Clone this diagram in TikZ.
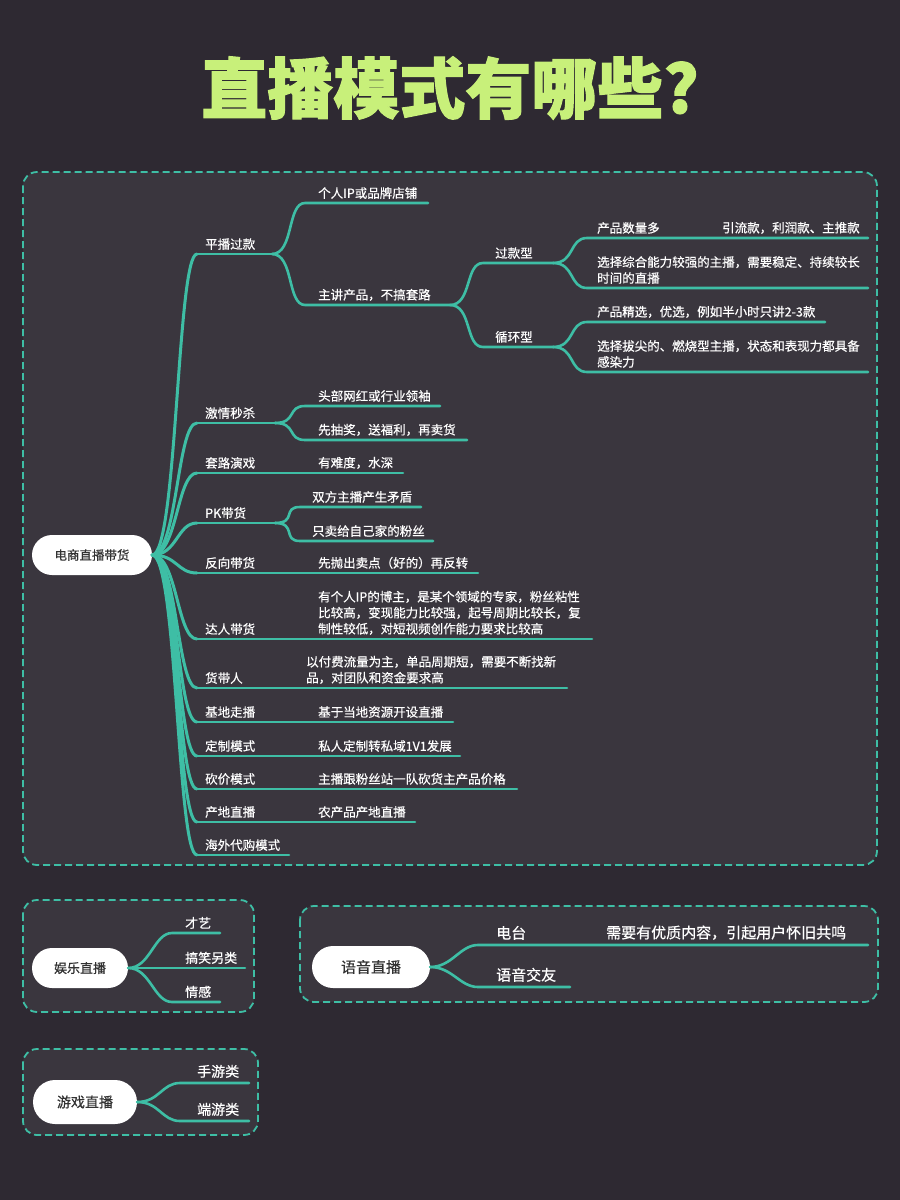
\documentclass[tikz,border=0pt]{standalone}
\usepackage{fontspec}
\setmainfont[FakeBold=0.5]{Noto Sans CJK SC}
\newfontfamily\ttlfont[FakeBold=1.6]{Noto Sans CJK SC}
\usetikzlibrary{positioning}
\usetikzlibrary{shapes.misc}
\definecolor{bgc}{RGB}{46,41,50}
\definecolor{pnl}{RGB}{58,54,62}
\definecolor{mmteal}{RGB}{62,190,165}
\definecolor{ttl}{RGB}{200,240,122}
\definecolor{pilltxt}{RGB}{50,50,50}

\begin{document}
\begin{tikzpicture}[x=1pt,y=-1pt,
    brn/.style={draw=mmteal,line width=2.6pt,line cap=round},
    crv/.style={out=0,in=180,out distance=22pt,in distance=18pt},
    lbl/.style={anchor=south west,inner sep=0pt,text=white,align=left,font=\fontsize{12.5}{16}\selectfont},
    pill/.style={rounded rectangle,fill=white,text=pilltxt,inner sep=0pt,font=\fontsize{12.5}{16}\selectfont},
    panel/.style={draw=mmteal,fill=pnl,line width=1.8pt,dash pattern=on 7pt off 4pt,rounded corners=14pt}]
    \fill[bgc] (0,0) rectangle (900,1200);
    \node[text=ttl,font=\ttlfont\fontsize{66}{70}\selectfont\bfseries] (title) at (450,88) {直播模式有哪些?};

    \draw[panel] (23,172) rectangle (877,865);
    \node[pill,minimum width=120pt,minimum height=40pt] (ecom) at (92,555) {电商直播带货};

    \coordinate (pb) at (197,254);
    \coordinate (jq) at (197,423);
    \coordinate (tl) at (197,473);
    \coordinate (pk) at (197,523);
    \coordinate (fx) at (197,573);
    \coordinate (dr) at (197,639);
    \coordinate (hd) at (197,688);
    \coordinate (jd) at (197,722);
    \coordinate (dz) at (197,756);
    \coordinate (kj) at (197,789);
    \coordinate (cd) at (197,822);
    \coordinate (hw) at (197,855);
    \foreach \b in {pb,jq,tl,pk,fx,dr,hd,jd,dz,kj,cd,hw}
        \draw[brn,line width=3pt] (ecom.east) to[out=0,in=180,out distance=25pt,in distance=20pt] (\b);

    \draw[brn] (pb) -- ++(75,0) coordinate (pbS);
    \draw[brn] (jq) -- ++(78,0) coordinate (jqS);
    \draw[brn] (tl) -- ++(206,0) coordinate (tlE);
    \draw[brn] (pk) -- ++(78,0) coordinate (pkS);
    \draw[brn] (fx) -- ++(281,0) coordinate (fxE);
    \draw[brn] (dr) -- ++(395,0) coordinate (drE);
    \draw[brn] (hd) -- ++(370,0) coordinate (hdE);
    \draw[brn] (jd) -- ++(256,0) coordinate (jdE);
    \draw[brn] (dz) -- ++(263,0) coordinate (dzE);
    \draw[brn] (kj) -- ++(320,0) coordinate (kjE);
    \draw[brn] (cd) -- ++(218,0) coordinate (cdE);
    \draw[brn] (hw) -- ++(92,0) coordinate (hwE);

    \node[lbl] (pbL) at (205,250) {平播过款};
    \node[lbl] (jqL) at (205,419) {激情秒杀};
    \node[lbl] (tlL) at (205,469) {套路演戏};
    \node[lbl] (pkL) at (205,519) {PK带货};
    \node[lbl] (fxL) at (205,569) {反向带货};
    \node[lbl] (drL) at (205,635) {达人带货};
    \node[lbl] (hdL) at (205,684) {货带人};
    \node[lbl] (jdL) at (205,718) {基地走播};
    \node[lbl] (dzL) at (205,752) {定制模式};
    \node[lbl] (kjL) at (205,785) {砍价模式};
    \node[lbl] (cdL) at (205,818) {产地直播};
    \node[lbl] (hwL) at (205,851) {海外代购模式};

    \node[lbl] (tlT) at (318,469) {有难度，水深};
    \node[lbl] (fxT) at (318,569) {先抛出卖点（好的）再反转};
    \node[lbl] (drT) at (318,635) {有个人IP的博主，是某个领域的专家，粉丝粘性\\比较高，变现能力比较强，起号周期比较长，复\\制性较低，对短视频创作能力要求比较高};
    \node[lbl] (hdT) at (306,684) {以付费流量为主，单品周期短，需要不断找新\\品，对团队和资金要求高};
    \node[lbl] (jdT) at (318,718) {基于当地资源开设直播};
    \node[lbl] (dzT) at (318,752) {私人定制转私域1V1发展};
    \node[lbl] (kjT) at (318,785) {主播跟粉丝站一队砍货主产品价格};
    \node[lbl] (cdT) at (318,818) {农产品产地直播};

    \coordinate (ip) at (305,203);
    \coordinate (zj) at (305,305);
    \draw[brn] (pbS) to[crv] (ip) -- ++(123,0) coordinate (ipE);
    \draw[brn] (pbS) to[crv] (zj) -- ++(145,0) coordinate (zjS);
    \node[lbl] (ipL) at (318,199) {个人IP或品牌店铺};
    \node[lbl] (zjL) at (318,301) {主讲产品，不搞套路};

    \coordinate (gk) at (483,263);
    \coordinate (xh) at (483,347);
    \draw[brn] (zjS) to[crv] (gk) -- ++(70,0) coordinate (gkS);
    \draw[brn] (zjS) to[crv] (xh) -- ++(70,0) coordinate (xhS);
    \node[lbl] (gkL) at (495,259) {过款型};
    \node[lbl] (xhL) at (495,343) {循环型};

    \coordinate (sl) at (587,238);
    \coordinate (zh) at (587,288);
    \coordinate (jx) at (587,322);
    \coordinate (bj) at (587,372);
    \draw[brn] (gkS) to[crv] (sl) -- ++(281,0) coordinate (slE);
    \draw[brn] (gkS) to[crv] (zh) -- ++(281,0) coordinate (zhE);
    \draw[brn] (xhS) to[crv] (jx) -- ++(238,0) coordinate (jxE);
    \draw[brn] (xhS) to[crv] (bj) -- ++(281,0) coordinate (bjE);
    \node[lbl] (slL) at (597,234) {产品数量多};
    \node[lbl] (slT) at (722,234) {引流款，利润款、主推款};
    \node[lbl] (zhL) at (597,284) {选择综合能力较强的主播，需要稳定、持续较长\\时间的直播};
    \node[lbl] (jxL) at (597,318) {产品精选，优选，例如半小时只讲2-3款};
    \node[lbl] (bjL) at (597,368) {选择拔尖的、燃烧型主播，状态和表现力都具备\\感染力};

    \coordinate (tb) at (305,406);
    \coordinate (cj) at (305,440);
    \draw[brn] (jqS) to[crv] (tb) -- ++(135,0) coordinate (tbE);
    \draw[brn] (jqS) to[crv] (cj) -- ++(162,0) coordinate (cjE);
    \node[lbl] (tbL) at (318,402) {头部网红或行业领袖};
    \node[lbl] (cjL) at (318,436) {先抽奖，送福利，再卖货};

    \coordinate (sf) at (300,507);
    \coordinate (zm) at (300,541);
    \draw[brn] (pkS) to[crv] (sf) -- ++(121,0) coordinate (sfE);
    \draw[brn] (pkS) to[crv] (zm) -- ++(133,0) coordinate (zmE);
    \node[lbl] (sfL) at (312,503) {双方主播产生矛盾};
    \node[lbl] (zmL) at (312,537) {只卖给自己家的粉丝};

    \draw[panel] (23,900) rectangle (254,1012);
    \node[pill,minimum width=96pt,minimum height=40pt,font=\fontsize{13}{16}\selectfont] (yule) at (80,968) {娱乐直播};
    \coordinate (cy) at (172,933);
    \coordinate (gx) at (172,968);
    \coordinate (qg) at (172,1002);
    \draw[brn] (yule.east) to[crv] (cy) -- ++(48,0) coordinate (cyE);
    \draw[brn] (yule.east) -- (gx) -- ++(73,0) coordinate (gxE);
    \draw[brn] (yule.east) to[crv] (qg) -- ++(48,0) coordinate (qgE);
    \node[lbl,font=\fontsize{13}{16}\selectfont] (cyL) at (185,929) {才艺};
    \node[lbl,font=\fontsize{13}{16}\selectfont] (gxL) at (185,964) {搞笑另类};
    \node[lbl,font=\fontsize{13}{16}\selectfont] (qgL) at (185,998) {情感};

    \draw[panel] (300,906) rectangle (878,1002);
    \node[pill,minimum width=118pt,minimum height=42pt,font=\fontsize{15}{18}\selectfont] (yuyin) at (371,967) {语音直播};
    \coordinate (dt) at (478,945);
    \coordinate (jy) at (478,987);
    \draw[brn] (yuyin.east) to[crv] (dt) -- ++(390,0) coordinate (dtE);
    \draw[brn] (yuyin.east) to[crv] (jy) -- ++(92,0) coordinate (jyE);
    \node[lbl,font=\fontsize{15}{18}\selectfont] (dtL) at (496,940) {电台};
    \node[lbl,font=\fontsize{15}{18}\selectfont] (dtT) at (606,940) {需要有优质内容，引起用户怀旧共鸣};
    \node[lbl,font=\fontsize{15}{18}\selectfont] (jyL) at (496,982) {语音交友};

    \draw[panel] (23,1049) rectangle (258,1135);
    \node[pill,minimum width=104pt,minimum height=44pt,font=\fontsize{14}{17}\selectfont] (youxi) at (85,1102) {游戏直播};
    \coordinate (sy) at (180,1083);
    \coordinate (dy) at (180,1121);
    \draw[brn] (youxi.east) to[crv] (sy) -- ++(69,0) coordinate (syE);
    \draw[brn] (youxi.east) to[crv] (dy) -- ++(69,0) coordinate (dyE);
    \node[lbl,font=\fontsize{14}{17}\selectfont] (syL) at (197,1078) {手游类};
    \node[lbl,font=\fontsize{14}{17}\selectfont] (dyL) at (197,1116) {端游类};
\end{tikzpicture}
\end{document}
